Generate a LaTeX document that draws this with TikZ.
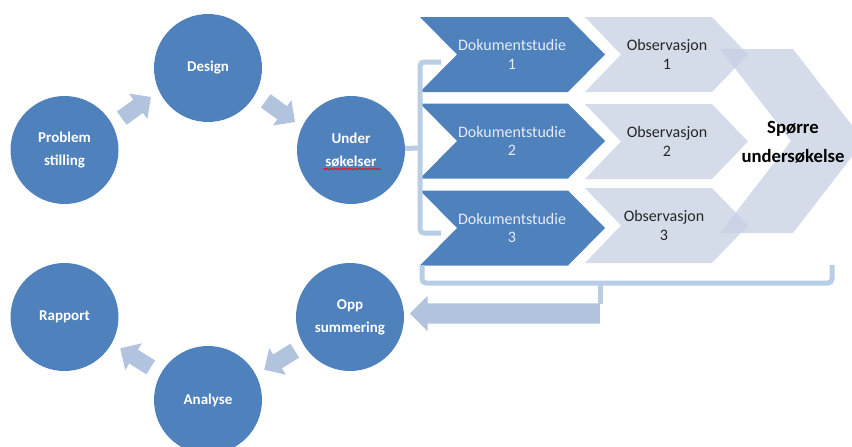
\documentclass[tikz,border=0pt]{standalone}
\usepackage{fontspec}
\setmainfont{Carlito}
\usetikzlibrary{shapes.arrows,decorations.pathmorphing}

\definecolor{accent}{HTML}{4F81BD}
\definecolor{pale}{HTML}{C5D0E3}
\definecolor{flow}{HTML}{B2C3DE}
\definecolor{brace}{HTML}{B9CDE5}
\definecolor{chevtext}{HTML}{E4ECF6}

% chevron: left x, centre y, half height, body width, point depth, style
\newcommand\drawchevron[6]{%
  \fill[#6] (#1,#2-#3) -- (#1+#4,#2-#3) -- (#1+#4+#5,#2) -- (#1+#4,#2+#3)
    -- (#1,#2+#3) -- (#1+#5,#2) -- cycle;}

\begin{document}
\begin{tikzpicture}[x=1pt,y=-1pt,
  stage/.style={circle, fill=accent, minimum size=108pt, inner sep=0pt,
    text=white, align=center, font=\bfseries\fontsize{15}{23}\selectfont},
  flowarrow/.style={single arrow, fill=flow, minimum height=36pt,
    inner xsep=0pt, inner ysep=8pt, single arrow head extend=7.5pt},
  bracketline/.style={draw=brace, line width=5pt, rounded corners=4pt},
  doctext/.style={text=chevtext, align=center,
    font=\fontsize{16}{18.5}\selectfont},
  obstext/.style={text=black!85, align=center,
    font=\fontsize{16}{18.5}\selectfont},
  bigtext/.style={text=black, align=center,
    font=\bfseries\fontsize{18.7}{29}\selectfont},
  darkchev/.style={fill=accent},
  lightchev/.style={fill=pale, fill opacity=0.75}]

\clip (0,0) rectangle (852,447);

% research cycle
\node[stage] (prob)    at (64.5,150) {Problem\\stilling};
\node[stage] (design)  at (208,68)   {Design};
\node[stage] (under)   at (351,150)  {Under\\søkelser};
\node[stage] (opp)     at (350,317)  {Opp\\summering};
\node[stage] (analyse) at (208,400)  {Analyse};
\node[stage] (rapport) at (64.5,317) {Rapport};

% spell-check squiggle under the second word
\draw[red, line width=0.6pt, decorate,
  decoration={snake, amplitude=0.8pt, segment length=3pt}]
  ([xshift=-28pt,yshift=-19pt]under.center) -- ([xshift=30pt,yshift=-19pt]under.center);

% arrows between stages
\node[flowarrow, rotate=36]   (a1) at (133,110) {};
\node[flowarrow, rotate=-36]  (a2) at (277,109) {};
\node[flowarrow, rotate=-148] (a3) at (283,358) {};
\node[flowarrow, rotate=148]  (a4) at (139,360) {};

% data collection chevrons
\drawchevron{420}{54.5}{37.5}{148}{37}{darkchev}
\drawchevron{420}{141}{37.5}{148}{37}{darkchev}
\drawchevron{420}{228}{37.5}{148}{37}{darkchev}
\drawchevron{585}{54.5}{37.5}{127}{36}{lightchev}
\drawchevron{585}{141.5}{37.5}{127}{36}{lightchev}
\drawchevron{585}{225.5}{37.5}{127}{36}{lightchev}
\drawchevron{720}{141}{92}{73}{71}{lightchev}

\node[doctext] (d1) at (512,54.5) {Dokumentstudie\\1};
\node[doctext] (d2) at (512,141)  {Dokumentstudie\\2};
\node[doctext] (d3) at (512,228)  {Dokumentstudie\\3};
\node[obstext] (o1) at (667,54.5)  {Observasjon\\1};
\node[obstext] (o2) at (667,141.5) {Observasjon\\2};
\node[obstext] (o3) at (664,225.5) {Observasjon\\3};
\node[bigtext] (sp) at (793,142) {Spørre\\undersøkelse};

% bracket gathering the methods
\coordinate (brk) at (420,148);
\draw[bracketline] (441,62) -- (420,62) -- (420,233) -- (441,233);
\draw[bracketline] (under) -- (brk);

% bracket collecting the results, feeding back to the summary
\coordinate (tick) at (600,283);
\coordinate (tickend) at (600,304);
\draw[bracketline] (422,265) -- (422,283) -- (832,283) -- (832,265);
\draw[draw=brace, line width=5pt] (tick) -- (tickend);
\node[single arrow, fill=flow, minimum height=190pt, inner xsep=0pt,
  inner ysep=10pt, single arrow head extend=7.5pt, shape border rotate=180]
  (back) at (510,313.5) {};

\end{tikzpicture}
\end{document}
